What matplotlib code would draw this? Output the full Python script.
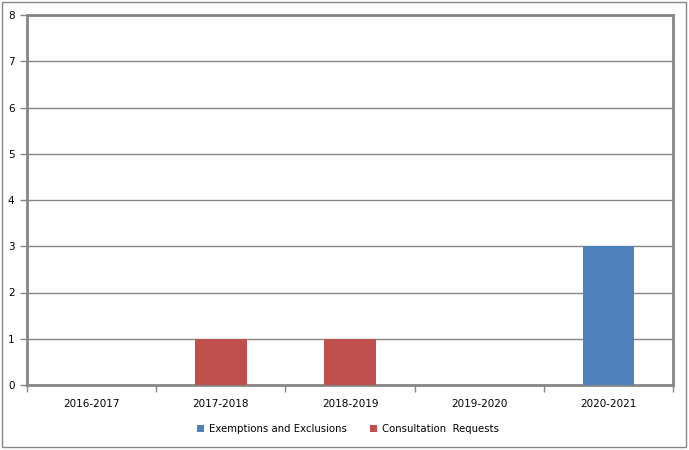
import matplotlib
matplotlib.use("Agg")
import matplotlib.pyplot as plt
import numpy as np
from matplotlib.patches import Rectangle

categories = ["2016-2017", "2017-2018", "2018-2019", "2019-2020", "2020-2021"]
exemptions = [0, 0, 0, 0, 3]
consultations = [0, 1, 1, 0, 0]
yticks = [0, 1, 2, 3, 4, 5, 6, 7, 8]

blue = "#4F81BD"
red = "#C0504D"
gray = "#868686"

fig = plt.figure(figsize=(6.89, 4.5), dpi=100)
fig.patches.append(Rectangle((0.003, 0.006), 0.993, 0.99, transform=fig.transFigure,
                             fill=False, edgecolor=gray, linewidth=1.0))
ax = fig.add_axes([27/689, 65/450, (673-27)/689, (385-15)/450])

x = np.arange(len(categories))
ax.bar(x, exemptions, width=0.40, color=blue, label="Exemptions and Exclusions", zorder=3)
ax.bar(x, consultations, width=0.40, bottom=exemptions, color=red, label="Consultation  Requests", zorder=3)

ax.set_xlim(-0.5, len(categories) - 0.5)
ax.set_ylim(0, 8)
ax.set_yticks(yticks)
ax.set_yticklabels([str(v) for v in yticks], fontsize=7.5)
ax.set_xticks(x)
ax.set_xticklabels(categories, fontsize=7.5)
ax.set_xticks(np.arange(-0.5, len(categories)), minor=True)
ax.tick_params(axis="x", which="major", length=0, pad=10)
ax.tick_params(axis="x", which="minor", length=5, color=gray, width=1)
ax.tick_params(axis="y", length=5, color=gray, width=1, pad=4)
ax.grid(axis="y", color=gray, linewidth=1, zorder=0)
for s in ax.spines.values():
    s.set_color(gray)
    s.set_linewidth(2)

leg = fig.legend(loc="center", bbox_to_anchor=(0.505, (450-429)/450), ncol=2, frameon=False,
                 fontsize=7.3, handlelength=0.7, handleheight=0.7, columnspacing=2.2,
                 handletextpad=0.5)

fig.savefig("out.png", dpi=100)
